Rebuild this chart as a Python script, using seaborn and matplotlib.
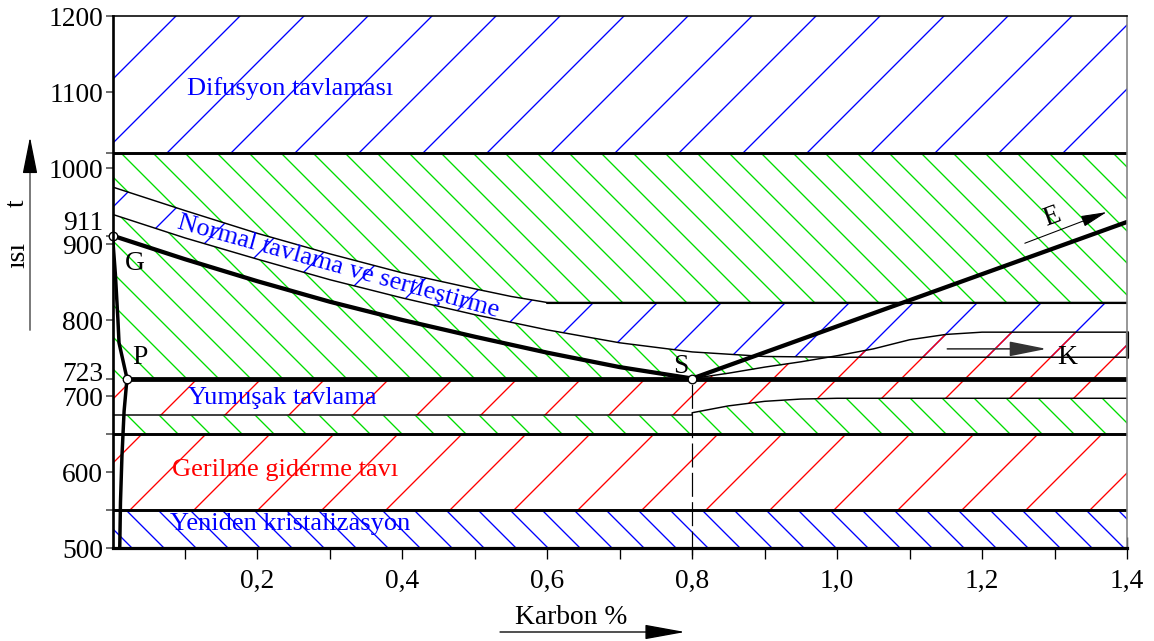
import seaborn as sns
import matplotlib.pyplot as plt

# eksenler
x_ticks = [0.1, 0.2, 0.3, 0.4, 0.5, 0.6, 0.7, 0.8, 0.9, 1.0, 1.1, 1.2, 1.3, 1.4]
x_labels = ['', '0,2', '', '0,4', '', '0,6', '', '0,8', '', '1,0', '', '1,2', '', '1,4']
y_ticks = [500, 550, 600, 650, 700, 723, 800, 900, 911, 1000, 1020, 1100, 1200]
y_labels = ['500', '', '600', '', '700', '', '800', '', '', '1000', '', '1100', '1200']

# yatay bölge sınırları
full_c = [0.0, 1.4]
zone_edges = [500, 550, 650, 1020, 1200]

# faz çizgileri (Karbon %, sıcaklık)
gs_c = [0.0, 0.1, 0.2, 0.3, 0.4, 0.5, 0.6, 0.7, 0.8]
gs_t = [911, 880, 851, 824, 800, 778, 757, 738, 723]
se_c = [0.8, 1.4]
se_t = [723, 929]
gp_c = [0.0, 0.004, 0.0075, 0.009, 0.02]
gp_t = [911, 860, 800, 770, 723]
pq_c = [0.02, 0.016, 0.013, 0.011, 0.01]
pq_t = [723, 680, 620, 560, 500]
a1_c = [0.02, 1.4]
a1_t = [723, 723]

# normal tavlama bandı
norm_c = [0.0, 0.1, 0.2, 0.3, 0.4, 0.5, 0.55, 0.6, 0.7, 0.8, 0.9, 1.0, 1.4]
norm_lo = [939, 908, 880, 853, 829, 807, 797, 787, 770, 758, 752, 751, 751]
norm_hi = [975, 944, 914, 887, 862, 841, 831, 823, 823, 823, 823, 823, 823]

# yumuşak tavlama bandı
soft_c = [0.0, 0.8, 0.8, 0.85, 0.9, 0.95, 1.0, 1.05, 1.1, 1.15, 1.2, 1.4]
soft_lo = [675, 675, 678, 687, 693, 696, 697, 697, 697, 697, 697, 697]
soft_hi = [723, 723, 723, 730, 738, 745, 753, 762, 774, 781, 784, 784]

# önemli noktalar
key_c = [0.0, 0.02, 0.8]
key_t = [911, 723, 723]

BLUE = '#0000ff'
GREEN = '#00dd00'
RED = '#ff0000'

sns.set_theme(style='white')
plt.rcParams['font.family'] = ['Liberation Serif', 'DejaVu Serif']
plt.rcParams['hatch.linewidth'] = 0.5
plt.rcParams['lines.scale_dashes'] = False
plt.rcParams['text.color'] = 'black'

DPI = 192
FS = 9.9
TFS = 10.3
fig = plt.figure(figsize=(1154 / DPI, 641 / DPI), dpi=DPI)
ax = fig.add_axes([112.5 / 1154, 1 - 548 / 641, (1127 - 112.5) / 1154, (548 - 16) / 641])


def hatch_fill(x, lo, hi, color, hatch, face='white', z=1):
    ax.fill_between(x, lo, hi, facecolor=face, edgecolor=color, hatch=hatch,
                    linewidth=0, zorder=z)


# düz bölgeler
hatch_fill(full_c, [zone_edges[0]] * 2, [zone_edges[1]] * 2, BLUE, '\\\\')
hatch_fill(full_c, [zone_edges[1]] * 2, [zone_edges[2]] * 2, RED, '/')
hatch_fill(full_c, [zone_edges[2]] * 2, [zone_edges[3]] * 2, GREEN, '\\\\')
hatch_fill(full_c, [zone_edges[3]] * 2, [zone_edges[4]] * 2, BLUE, '/')

# üst üste binen bantlar: önce beyaz maske, sonra tarama
ax.fill_between(norm_c, norm_lo, norm_hi, color='white', linewidth=0, zorder=2)
ax.fill_between(soft_c, soft_lo, soft_hi, color='white', linewidth=0, zorder=2)
hatch_fill(norm_c, norm_lo, norm_hi, BLUE, '/', face='none', z=3)
hatch_fill(soft_c, soft_lo, soft_hi, RED, '/', face='none', z=3)

# sınır çizgileri
for t in zone_edges[1:4]:
    ax.axhline(t, color='black', lw=1.1, zorder=4)

thin = dict(color='black', linewidth=0.55, sort=False, estimator=None, zorder=4)
sns.lineplot(x=norm_c, y=norm_lo, ax=ax, **thin)
sns.lineplot(x=norm_c, y=norm_hi, ax=ax, **thin)
sns.lineplot(x=norm_c[7:], y=norm_hi[7:], ax=ax, color='black', linewidth=0.8,
             sort=False, estimator=None, zorder=4)
sns.lineplot(x=soft_c, y=soft_lo, ax=ax, **thin)
sns.lineplot(x=soft_c[2:], y=soft_hi[2:], ax=ax, **thin)
ax.plot([soft_c[-1]] * 2, [norm_lo[-1], soft_hi[-1]], color='black', lw=1.2,
        clip_on=False, zorder=4)

# dikey kesikli çizgi (0,8)
ax.plot([key_c[2]] * 2, [491, key_t[2]], color='black', lw=0.45,
        dashes=(9, 2), clip_on=False, zorder=4)

thick = dict(color='black', sort=False, estimator=None, zorder=5)
sns.lineplot(x=gs_c, y=gs_t, ax=ax, linewidth=1.6, **thick)
sns.lineplot(x=se_c, y=se_t, ax=ax, linewidth=1.6, **thick)
sns.lineplot(x=gp_c, y=gp_t, ax=ax, linewidth=1.3, **thick)
sns.lineplot(x=pq_c, y=pq_t, ax=ax, linewidth=1.3, **thick)
sns.lineplot(x=a1_c, y=a1_t, ax=ax, linewidth=1.8, **thick)

ax.plot(key_c, key_t, 'o', ms=3.2, mfc='white', mec='black', mew=0.5,
        zorder=7, clip_on=False)

# nokta harfleri
for s, xy in [('G', (0.031, 875)), ('P', (0.038, 751)), ('S', (0.784, 739)),
              ('K', (1.318, 750))]:
    ax.text(*xy, s, fontsize=TFS, ha='center', va='center', zorder=8)
ax.text(1.296, 935, 'E', fontsize=TFS, ha='center', va='center', rotation=20, zorder=8)

ax.annotate('', xy=(1.372, 942), xytext=(1.259, 901),
            arrowprops=dict(arrowstyle='-|>,head_length=0.7,head_width=0.15',
                            color='black', lw=0.4, shrinkA=0, shrinkB=0), zorder=8)
ax.annotate('', xy=(1.289, 762), xytext=(1.152, 762),
            arrowprops=dict(arrowstyle='-|>,head_length=1.0,head_width=0.2',
                            color='0.2', lw=0.6, shrinkA=0, shrinkB=0), zorder=8)

# bölge adları
ax.text(0.245, 1105, 'Difusyon tavlaması', color=BLUE, fontsize=FS, ha='center', va='center')
ax.text(0.312, 870, 'Normal tavlama ve sertleştirme', color=BLUE, fontsize=FS,
        ha='center', va='center', rotation=-15.5, rotation_mode='anchor', zorder=8)
ax.text(0.234, 697, 'Yumuşak tavlama', color=BLUE, fontsize=FS, ha='center', va='center', zorder=8)
ax.text(0.238, 603, 'Gerilme giderme tavı', color=RED, fontsize=FS, ha='center', va='center', zorder=8)
ax.text(0.245, 532, 'Yeniden kristalizasyon', color=BLUE, fontsize=FS, ha='center', va='center', zorder=8)

# eksen ayarları
ax.set_xlim(0, 1.4)
ax.set_ylim(500, 1200)
ax.set_xticks(x_ticks)
ax.set_xticklabels(x_labels)
ax.set_yticks(y_ticks)
ax.set_yticklabels(y_labels)
ax.tick_params(axis='x', bottom=True, direction='inout', length=8, width=0.5,
               pad=4.0, labelsize=TFS, color='black', labelcolor='black')
ax.tick_params(axis='y', left=True, direction='out', length=2.6, width=0.6,
               pad=1.0, labelsize=TFS, color='0.3', labelcolor='black')
# sıkışık etiketler biraz kaydırılmış
for lab, val, dy in [('911', 911, 4.6), ('900', 900, -1.2), ('723', 723, 1.4)]:
    ax.annotate(lab, xy=(0, val), xycoords=('axes fraction', 'data'),
                xytext=(-3.6, dy), textcoords='offset points', ha='right',
                va='center', fontsize=TFS)

for side, lw, col in [('left', 1.0, 'black'), ('bottom', 1.2, 'black'),
                      ('top', 0.6, 'black'), ('right', 0.6, '0.5')]:
    ax.spines[side].set_linewidth(lw)
    ax.spines[side].set_color(col)
    ax.spines[side].set_zorder(9)

# eksen başlıkları ve oklar
fig.text(571 / 1154, 1 - 617 / 641, 'Karbon %', fontsize=TFS, ha='center', va='center')
ax.annotate('', xy=(685 / 1154, 1 - 632 / 641), xytext=(500 / 1154, 1 - 632 / 641),
            xycoords='figure fraction', textcoords='figure fraction',
            arrowprops=dict(arrowstyle='-|>,head_length=1.1,head_width=0.2',
                            color='black', lw=0.5, shrinkA=0, shrinkB=0))
fig.text(17 / 1154, 1 - 203 / 641, 't', fontsize=TFS, rotation=90, ha='center', va='center')
fig.text(18 / 1154, 1 - 255 / 641, 'ısı', fontsize=TFS, rotation=90, ha='center', va='center')
ax.annotate('', xy=(30 / 1154, 1 - 160 / 641), xytext=(30 / 1154, 1 - 330 / 641),
            xycoords='figure fraction', textcoords='figure fraction',
            arrowprops=dict(arrowstyle='-', color='0.45', lw=0.7, shrinkA=0, shrinkB=0))
ax.annotate('', xy=(30 / 1154, 1 - 137 / 641), xytext=(30 / 1154, 1 - 170 / 641),
            xycoords='figure fraction', textcoords='figure fraction',
            arrowprops=dict(arrowstyle='-|>,head_length=1.0,head_width=0.2',
                            color='black', lw=0.5, shrinkA=0, shrinkB=0))

fig.savefig('out.png', dpi=DPI)
